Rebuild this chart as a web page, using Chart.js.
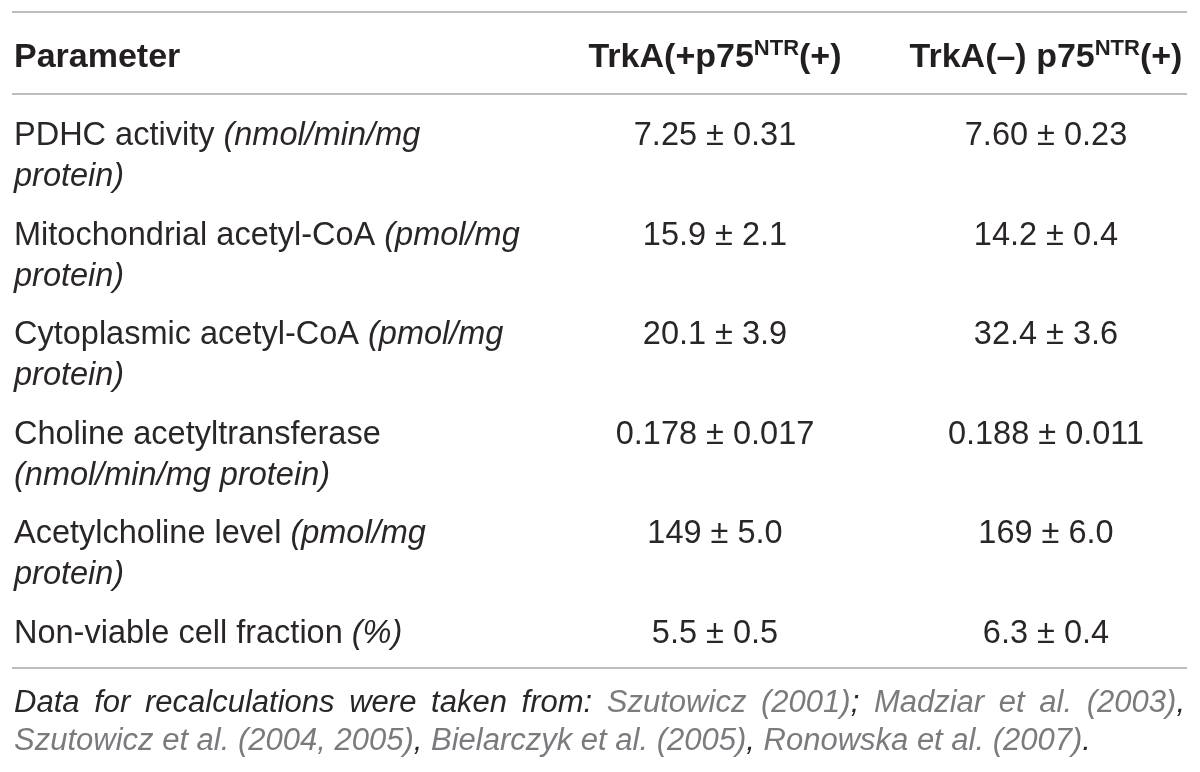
<!DOCTYPE html>
<html>
<head>
<meta charset="utf-8">
<title>TrkA / p75NTR parameters</title>
<script src="https://cdn.jsdelivr.net/npm/chart.js@4.4.0/dist/chart.umd.min.js"></script>
<style>
    html, body { margin: 0; padding: 0; background: #fff; }
    #wrap { width: 1200px; height: 772px; position: relative; }
</style>
</head>
<body>
<div id="wrap"><canvas id="tableChart"></canvas></div>
<script>
// Table content
const paramNames = ['PDHC activity', 'Mitochondrial acetyl-CoA', 'Cytoplasmic acetyl-CoA',
    'Choline acetyltransferase', 'Acetylcholine level', 'Non-viable cell fraction'];
// '\n' marks where the original table wraps the unit
const paramUnits = ['(nmol/min/mg\nprotein)', '(pmol/mg\nprotein)', '(pmol/mg\nprotein)',
    '\n(nmol/min/mg protein)', '(pmol/mg\nprotein)', '(%)'];
const trkAPosMean = ['7.25', '15.9', '20.1', '0.178', '149', '5.5'];
const trkAPosErr = ['0.31', '2.1', '3.9', '0.017', '5.0', '0.5'];
const trkANegMean = ['7.60', '14.2', '32.4', '0.188', '169', '6.3'];
const trkANegErr = ['0.23', '0.4', '3.6', '0.011', '6.0', '0.4'];
const colHeads = ['TrkA(+p75', 'TrkA(\u2013) p75'];
const colHeadSup = 'NTR';
const colHeadTail = '(+)';
const noteLead = 'Data for recalculations were taken from: ';
const noteRefs = ['Szutowicz (2001)', 'Madziar et al. (2003)', 'Szutowicz et al. (2004, 2005)',
    'Bielarczyk et al. (2005)', 'Ronowska et al. (2007)'];
const noteSeps = ['; ', ',', ', ', ', ', '.'];

// Layout (in scale units, 1 unit = 1 px of the 1200x772 frame)
const layout = {
    ruleLeft: 12, ruleRight: 1187,
    ruleTop: 12, ruleHead: 94, ruleBottom: 668,
    headBase: 67,
    rowBase: 145, rowPitch: 99.5, lineGap: 41,
    textLeft: 14,
    colCenter: [715, 1046],
    noteBase: 712, noteGap: 38, noteRight: 1185
};

const FONT = '"Liberation Sans", Arial, Helvetica, sans-serif';
const styles = {
    text: { font: `32.5px ${FONT}`, color: '#2a2627' },
    unit: { font: `italic 32.5px ${FONT}`, color: '#2a2627' },
    head: { font: `bold 34px ${FONT}`, color: '#231f20' },
    sup: { font: `bold 22px ${FONT}`, color: '#231f20' },
    note: { font: `italic 31px ${FONT}`, color: '#2a2627' },
    ref: { font: `italic 31px ${FONT}`, color: '#7a7b7e' },
    rule: '#a7a9ac'
};

const run = (text, style, dy) => ({ text, font: style.font, color: style.color, dy: dy || 0 });

function drawRuns(ctx, runs, x, y, align) {
    let total = 0;
    runs.forEach(r => {
        ctx.font = r.font;
        r.w = ctx.measureText(r.text).width;
        total += r.w;
    });
    let cx = align === 'center' ? x - total / 2 : x;
    runs.forEach(r => {
        ctx.font = r.font;
        ctx.fillStyle = r.color;
        ctx.fillText(r.text, cx, y + r.dy);
        cx += r.w;
    });
}

// Justified line: extra room goes into the spaces
function drawRunsJustified(ctx, runs, x, y, right) {
    const tokens = [];
    runs.forEach(r => {
        r.text.split(/( )/).filter(t => t.length).forEach(t => {
            ctx.font = r.font;
            tokens.push({ text: t, font: r.font, color: r.color, dy: r.dy, w: ctx.measureText(t).width });
        });
    });
    // trailing spaces do not count
    while (tokens.length && tokens[tokens.length - 1].text === ' ') tokens.pop();
    const total = tokens.reduce((s, t) => s + t.w, 0);
    const gaps = tokens.filter(t => t.text === ' ').length;
    const pad = gaps ? Math.max(0, (right - x - total) / gaps) : 0;
    let cx = x;
    tokens.forEach(t => {
        if (t.text === ' ') { cx += t.w + pad; return; }
        ctx.font = t.font;
        ctx.fillStyle = t.color;
        ctx.fillText(t.text, cx, y + t.dy);
        cx += t.w;
    });
}

const tablePlugin = {
    id: 'tablePlugin',
    afterDraw: (chart) => {
        const { ctx, scales: { x, y } } = chart;
        const px = v => x.getPixelForValue(v);
        const py = v => y.getPixelForValue(v);

        ctx.save();
        ctx.textBaseline = 'alphabetic';

        // Horizontal rules
        ctx.strokeStyle = styles.rule;
        ctx.lineWidth = 1.5;
        [layout.ruleTop, layout.ruleHead, layout.ruleBottom].forEach(r => {
            ctx.beginPath();
            ctx.moveTo(px(layout.ruleLeft), py(r));
            ctx.lineTo(px(layout.ruleRight), py(r));
            ctx.stroke();
        });

        // Header
        drawRuns(ctx, [run('Parameter', styles.head)], px(layout.textLeft), py(layout.headBase), 'left');
        colHeads.forEach((h, c) => {
            drawRuns(ctx, [run(h, styles.head), run(colHeadSup, styles.sup, -12), run(colHeadTail, styles.head)],
                px(layout.colCenter[c]), py(layout.headBase), 'center');
        });

        // Body rows
        paramNames.forEach((name, i) => {
            const base = layout.rowBase + i * layout.rowPitch;
            const parts = paramUnits[i].split('\n');
            const first = [run(name + ' ', styles.text)];
            if (parts[0]) first.push(run(parts[0], styles.unit));
            drawRuns(ctx, first, px(layout.textLeft), py(base), 'left');
            if (parts.length > 1) {
                drawRuns(ctx, [run(parts[1], styles.unit)], px(layout.textLeft), py(base + layout.lineGap), 'left');
            }
            drawRuns(ctx, [run(`${trkAPosMean[i]} \u00b1 ${trkAPosErr[i]}`, styles.text)],
                px(layout.colCenter[0]), py(base), 'center');
            drawRuns(ctx, [run(`${trkANegMean[i]} \u00b1 ${trkANegErr[i]}`, styles.text)],
                px(layout.colCenter[1]), py(base), 'center');
        });

        // Footnote, wrapped after the second reference as in the original
        const line1 = [run(noteLead, styles.note)];
        const line2 = [];
        noteRefs.forEach((ref, k) => {
            const target = k < 2 ? line1 : line2;
            target.push(run(ref, styles.ref));
            target.push(run(noteSeps[k], styles.note));
        });
        drawRunsJustified(ctx, line1, px(layout.textLeft), py(layout.noteBase), px(layout.noteRight));
        drawRuns(ctx, line2, px(layout.textLeft), py(layout.noteBase + layout.noteGap), 'left');

        ctx.restore();
    }
};

const canvas = document.getElementById('tableChart');
new Chart(canvas.getContext('2d'), {
    type: 'scatter',
    data: { datasets: [] },
    options: {
        responsive: true,
        maintainAspectRatio: false,
        animation: false,
        layout: { padding: 0 },
        plugins: { legend: { display: false }, tooltip: { enabled: false } },
        scales: {
            x: { type: 'linear', display: false, min: 0, max: 1200 },
            y: { type: 'linear', display: false, min: 0, max: 772, reverse: true }
        }
    },
    plugins: [tablePlugin]
});
</script>
</body>
</html>
